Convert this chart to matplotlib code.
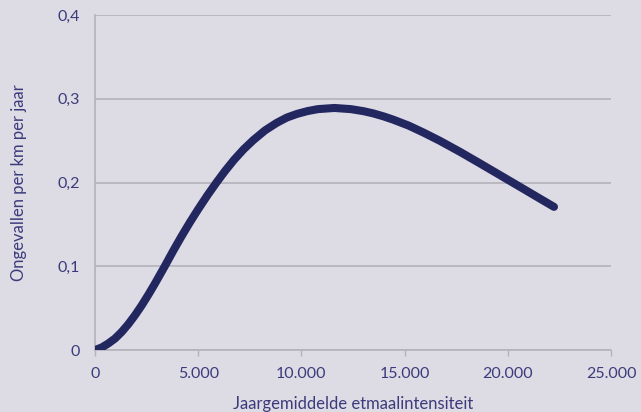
import matplotlib
matplotlib.use("Agg")
import matplotlib.pyplot as plt
from matplotlib.ticker import FuncFormatter

intensity = [0, 325, 644, 969, 1294, 1613, 1938, 2263, 2582, 2907, 3380,
             3800, 4200, 4600, 5000, 5450, 5894, 6300, 6735, 7200, 7670,
             8237, 8803, 9300, 9800, 10300, 10800, 11600, 12400, 13000,
             13484, 14000, 14453, 15200, 15950, 16715, 17684, 18653, 19622,
             20591, 21560, 22238]
accidents = [0, 0.0030, 0.0078, 0.0137, 0.0216, 0.0308, 0.0415, 0.0533,
             0.0659, 0.0794, 0.1000, 0.1189, 0.1361, 0.1525, 0.1681, 0.1848,
             0.2003, 0.2137, 0.2270, 0.2396, 0.2506, 0.2622, 0.2712, 0.2776,
             0.2820, 0.2853, 0.2876, 0.2890, 0.2876, 0.2852, 0.2825, 0.2788,
             0.2750, 0.2679, 0.2592, 0.2497, 0.2366, 0.2228, 0.2088, 0.1948,
             0.1807, 0.1709]
x_ticks = [0, 5000, 10000, 15000, 20000, 25000]
y_ticks = [0, 0.1, 0.2, 0.3, 0.4]

bg = "#dddbe4"
navy = "#23275f"
text_c = "#3b3b7c"
grid_c = "#b4b3ba"

plt.rcParams['font.family'] = ['Lato', 'DejaVu Sans']

fig = plt.figure(figsize=(6.41, 4.12), dpi=100, facecolor=bg)
ax = fig.add_axes([95/641, 62/412, 516/641, 335/412])
ax.set_facecolor(bg)

ax.plot(intensity, accidents, color=navy, lw=5.8, solid_capstyle='round',
        solid_joinstyle='round', zorder=3)

ax.set_xlim(0, 25000)
ax.set_ylim(0, 0.4)
ax.set_xticks(x_ticks)
ax.set_yticks(y_ticks)
ax.xaxis.set_major_formatter(FuncFormatter(lambda v, p: f"{int(v):,}".replace(",", ".")))
ax.yaxis.set_major_formatter(FuncFormatter(lambda v, p: "0" if v == 0 else f"{v:.1f}".replace(".", ",")))

ax.grid(axis='y', color=grid_c, lw=1.2, zorder=1)
ax.set_axisbelow(True)
for s in ['top', 'right']:
    ax.spines[s].set_visible(False)
for s in ['left', 'bottom']:
    ax.spines[s].set_color(grid_c)
    ax.spines[s].set_linewidth(1.2)

ax.tick_params(axis='y', length=0, pad=11, labelsize=11.5, labelcolor=text_c)
ax.tick_params(axis='x', length=4, width=1, color=grid_c, pad=8, labelsize=11.5, labelcolor=text_c)

ax.set_xlabel("Jaargemiddelde etmaalintensiteit", fontsize=12, color=text_c,
              labelpad=11)
ax.set_ylabel("Ongevallen per km per jaar", fontsize=12, color=text_c,
              labelpad=22)

fig.savefig("out.png", dpi=100, facecolor=bg)
